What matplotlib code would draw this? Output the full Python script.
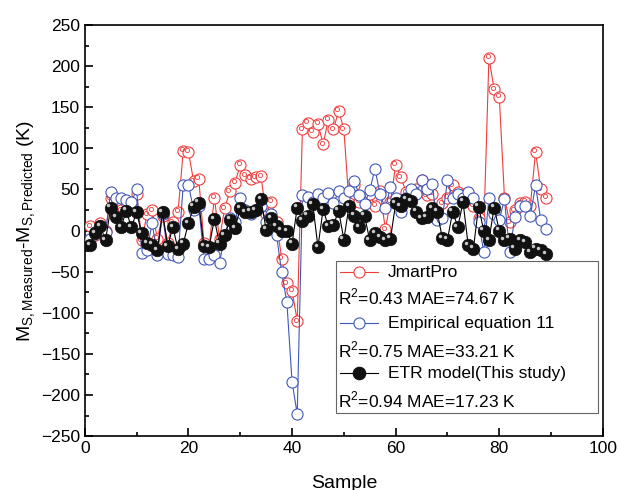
import matplotlib
matplotlib.use("Agg")
import matplotlib.pyplot as plt
from matplotlib.transforms import ScaledTranslation
from matplotlib.ticker import MultipleLocator
import numpy as np

plt.rcParams["font.family"] = ["Liberation Sans", "DejaVu Sans"]
plt.rcParams["mathtext.fontset"] = "custom"
plt.rcParams["mathtext.rm"] = "Liberation Sans"

samples = np.arange(1, 90)

jmartpro = [
    5, -5, 9, 0, 39, 30, 25, 35, 28, 45,
    -12, 20, 25, -10, 18, -15, 10, 23, 97, 96,
    60, 63, -15, -20, 40, -10, 27, 48, 58, 80,
    67, 63, 65, 66, 20, 35, 10, -34, -64, -73,
    -110, 123, 131, 120, 130, 105, 135, 123, 146, 123,
    33, 55, 35, 40, 45, 30, 48, 2, 35, 80,
    65, 47, 40, 50, 62, 43, 45, 25, 33, 40,
    55, 47, 45, 45, 30, 15, 0, 210, 172, 163,
    40, 10, 25, 33, 35, 30, 96, 50, 40,
]
empirical = [
    -10, -2, 5, -2, 47, 39, 40, 37, 35, 50,
    -27, -24, 9, -30, 20, -28, -30, -32, 56, 56,
    25, 30, -34, -34, -30, -40, -5, 15, 10, 39,
    25, 20, 25, 30, 10, 20, -5, -51, -87, -184,
    -223, 43, 41, 35, 44, 40, 46, 33, 48, 40,
    48, 60, 43, 32, 49, 75, 44, 27, 53, 40,
    22, 40, 50, 45, 61, 50, 57, 13, 15, 61,
    39, 45, 40, 47, 39, 11, -26, 39, 20, 13,
    38, -26, 16, 30, 30, 18, 55, 13, 2,
]
etr = [
    -18, -3, 5, -12, 28, 16, 4, 24, 4, 22,
    -3, -15, -17, -24, 22, -19, 4, -23, -16, 9,
    29, 34, -19, -20, 14, -16, -6, 13, 3, 27,
    22, 23, 25, 38, 1, 15, 5, 0, -1, -16,
    28, 12, 18, 32, -20, 26, 5, 7, 24, -11,
    30, 18, 4, 18, -12, -3, -8, -12, -10, 33,
    30, 38, 36, 23, 15, 16, 27, 23, -9, -11,
    23, 4, 35, -18, -22, 29, 0, -12, 28, 0,
    -12, -10, -22, -12, -14, -26, -22, -24, -29,
]

series_labels = ["JmartPro", "Empirical equation 11", "ETR model(This study)"]
metric_labels = [
    "R$^{2}$=0.43 MAE=74.67 K",
    "R$^{2}$=0.75 MAE=33.21 K",
    "R$^{2}$=0.94 MAE=17.23 K",
]

RED = "#f03c3c"
BLUE = "#4058b8"

fig = plt.figure(figsize=(6.19, 4.90), dpi=100)
ax = fig.add_axes([0.137, 0.110, 0.837, 0.839])

ax.plot(samples, jmartpro, "-", color=RED, lw=0.8, zorder=2)
ax.plot(samples, jmartpro, "o", ms=8, mfc="white", mec=RED, mew=0.8, zorder=3)
ax.plot(samples, jmartpro, "o", ms=3, mfc="none", mec=RED, mew=0.6, zorder=3,
        transform=ax.transData + ScaledTranslation(-1 / 72, 1 / 72, fig.dpi_scale_trans))

ax.plot(samples, empirical, "-", color=BLUE, lw=0.8, zorder=4)
ax.plot(samples, empirical, "o", ms=8, mfc="white", mec=BLUE, mew=0.8, zorder=5)

ax.plot(samples, etr, "-", color="black", lw=0.8, zorder=6)
ax.plot(samples, etr, "o", ms=9, mfc="#111111", mec="#111111", mew=0.5, zorder=7)
ax.plot(samples, etr, "o", ms=2.5, mfc="#c8c8c8", mec="none", zorder=8,
        transform=ax.transData + ScaledTranslation(-1.7 / 72, 1.7 / 72, fig.dpi_scale_trans))

ax.set_xlim(0, 100)
ax.set_ylim(-250, 250)
ax.xaxis.set_major_locator(MultipleLocator(20))
ax.xaxis.set_minor_locator(MultipleLocator(10))
ax.yaxis.set_major_locator(MultipleLocator(50))
ax.yaxis.set_minor_locator(MultipleLocator(25))
ax.tick_params(which="both", direction="in", top=False, right=False, labelsize=12.5, width=1.2)
ax.tick_params(which="major", length=6)
ax.tick_params(which="minor", length=3)
for spine in ax.spines.values():
    spine.set_linewidth(1.2)

ax.set_xlabel("Sample", fontsize=14, labelpad=14)
ax.set_ylabel("M$_{\\rm S,Measured}$-M$_{\\rm S,Predicted}$ (K)", fontsize=14, labelpad=2)

# legend drawn by hand: each entry followed by its metric line, left aligned
styles = [
    dict(color=RED, ms=8, mfc="white", mec=RED),
    dict(color=BLUE, ms=8, mfc="white", mec=BLUE),
    dict(color="black", ms=9, mfc="#111111", mec="#111111"),
]
legend_rows = [0.399, 0.275, 0.153]
metric_rows = [0.338, 0.209, 0.088]
frame = plt.Rectangle((0.485, 0.055), 0.505, 0.372, transform=ax.transAxes,
                      fill=False, edgecolor="#666666", lw=0.8, zorder=9)
ax.add_patch(frame)
for style, label, row in zip(styles, series_labels, legend_rows):
    ax.plot([0.493, 0.565], [row, row], transform=ax.transAxes,
            color=style["color"], lw=0.8, zorder=10)
    ax.plot([0.529], [row], "o", transform=ax.transAxes, ms=style["ms"],
            mfc=style["mfc"], mec=style["mec"], mew=0.8, zorder=11)
    ax.text(0.585, row, label, transform=ax.transAxes, fontsize=12.5,
            va="center", ha="left", zorder=11)
for label, row in zip(metric_labels, metric_rows):
    ax.text(0.489, row, label, transform=ax.transAxes, fontsize=12.5,
            va="center", ha="left", zorder=11)

fig.savefig("out.png", dpi=100)
